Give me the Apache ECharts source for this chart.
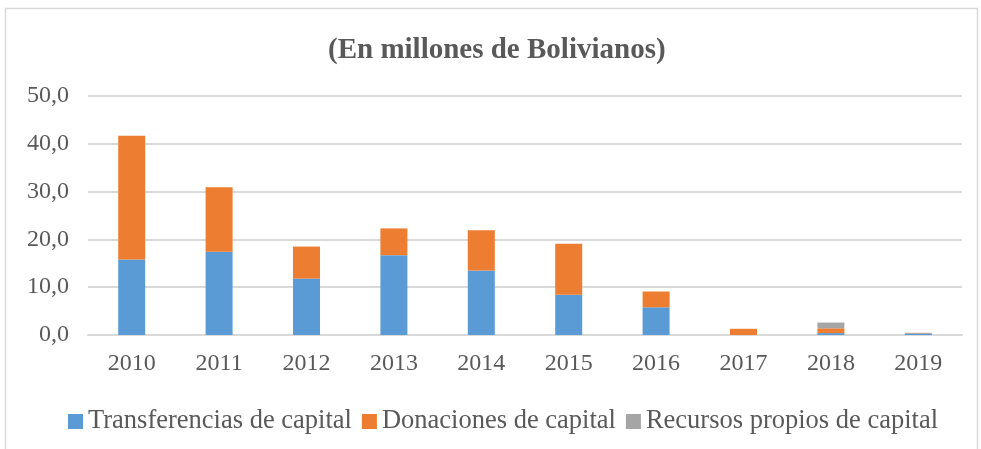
<!DOCTYPE html>
<html>
<head>
<meta charset="utf-8">
<script src="https://cdn.jsdelivr.net/npm/echarts@6/dist/echarts.min.js"></script>
<style>
  html, body { margin: 0; padding: 0; background: #fff; }
  #chart { width: 981px; height: 449px; }
</style>
</head>
<body>
<div id="chart"></div>
<script>
const years = ['2010', '2011', '2012', '2013', '2014', '2015', '2016', '2017', '2018', '2019']
const transferencias = [15.8, 17.4, 11.8, 16.7, 13.5, 8.4, 5.8, 0, 0.4, 0.35]
const donaciones = [25.9, 13.5, 6.7, 5.6, 8.4, 10.7, 3.3, 1.3, 1.0, 0.1]
const recursosPropios = [0, 0, 0, 0, 0, 0, 0, 0, 1.2, 0]

const serif = '"Liberation Serif", "DejaVu Serif", serif'
const textColor = '#595959'

const chart = echarts.init(document.getElementById('chart'))

function barSeries (name, data, color) {
  return {
    name: name,
    type: 'bar',
    stack: 'total',
    barWidth: 27,
    itemStyle: { color: color },
    data: data
  }
}

chart.setOption({
  animation: false,
  graphic: [{
    type: 'rect',
    shape: { x: 5.5, y: 8.5, width: 972, height: 470 },
    style: { fill: 'none', stroke: '#d9d9d9', lineWidth: 1.5 },
    silent: true
  }],
  title: {
    text: '(En millones de Bolivianos)',
    left: 323,
    top: 31,
    textStyle: {
      fontFamily: serif,
      fontWeight: 'bold',
      fontSize: 29,
      color: textColor
    }
  },
  legend: {
    top: 403,
    left: 63,
    itemWidth: 15,
    itemHeight: 15,
    itemGap: 10,
    icon: 'rect',
    textStyle: {
      fontFamily: serif,
      fontSize: 26.5,
      color: textColor,
      padding: [0, 0, 0, 0]
    },
    data: ['Transferencias de capital', 'Donaciones de capital', 'Recursos propios de capital']
  },
  grid: {
    left: 88,
    right: 19,
    top: 96,
    bottom: 114
  },
  xAxis: {
    type: 'category',
    data: years,
    axisLine: { lineStyle: { color: '#d9d9d9', width: 2 } },
    axisTick: { show: false },
    axisLabel: {
      margin: 17,
      fontFamily: serif,
      fontSize: 24,
      color: textColor
    }
  },
  yAxis: {
    type: 'value',
    min: 0,
    max: 50,
    interval: 10,
    axisLine: { show: false },
    axisTick: { show: false },
    splitLine: { lineStyle: { color: '#d9d9d9', width: 2 } },
    axisLabel: {
      margin: 19,
      fontFamily: serif,
      fontSize: 24,
      color: textColor,
      formatter: function (v) { return v.toFixed(1).replace('.', ',') }
    }
  },
  series: [
    barSeries('Transferencias de capital', transferencias, '#5b9bd5'),
    barSeries('Donaciones de capital', donaciones, '#ed7d31'),
    barSeries('Recursos propios de capital', recursosPropios, '#a5a5a5')
  ]
})
</script>
</body>
</html>
